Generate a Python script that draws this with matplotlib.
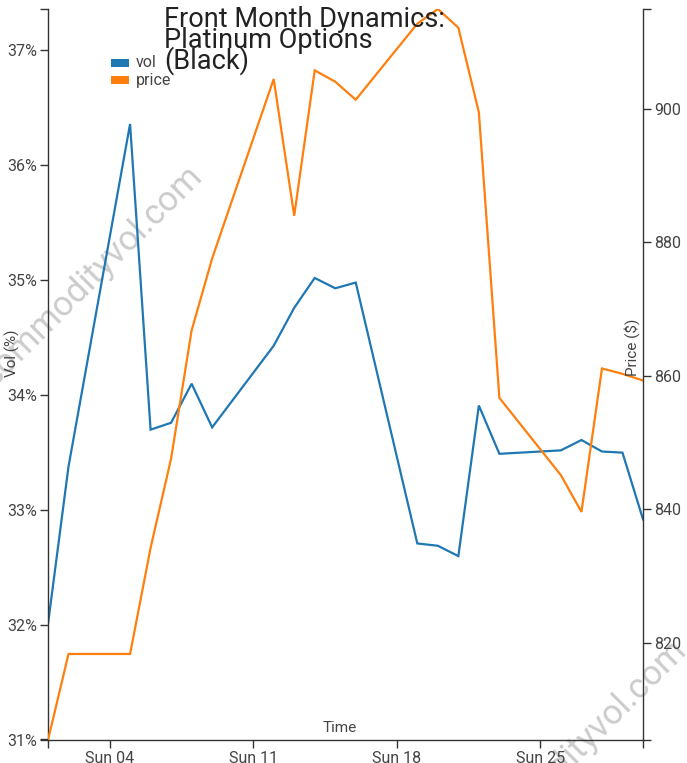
import matplotlib
matplotlib.use("Agg")
import matplotlib.pyplot as plt
import matplotlib.dates as mdates
from matplotlib.patches import Rectangle
import pandas as pd

plt.rcParams["font.family"] = ["Roboto", "DejaVu Sans"]

# ---------- data ----------
dates = ["2018-03-01", "2018-03-02", "2018-03-05", "2018-03-06", "2018-03-07", "2018-03-08",
         "2018-03-09", "2018-03-12", "2018-03-13", "2018-03-14", "2018-03-15", "2018-03-16",
         "2018-03-19", "2018-03-20", "2018-03-21", "2018-03-22", "2018-03-23", "2018-03-26",
         "2018-03-27", "2018-03-28", "2018-03-29", "2018-03-30"]
vol = [32.01, 33.38, 36.36, 33.70, 33.76, 34.10, 33.72, 34.43, 34.76, 35.02, 34.93,
       34.98, 32.71, 32.69, 32.60, 33.91, 33.49, 33.52, 33.61, 33.51, 33.50, 32.92]
price = [805.4, 818.3, 818.3, 834.2, 847.6, 866.8, 877.6, 904.5, 884.0, 905.8, 904.1,
         901.4, 912.8, 915.0, 912.2, 899.5, 856.7, 845.1, 839.6, 861.1, 860.3, 859.3]
vol_ticks = [31, 32, 33, 34, 35, 36, 37]
price_ticks = [820, 840, 860, 880, 900]
title_lines = ["Front Month Dynamics:", "Platinum Options", "(Black)"]
series_names = ["vol", "price"]

BLUE, ORANGE = "#1f77b4", "#ff7f0e"
AX_C, TXT_C = "#333333", "#444444"
W, H = 687, 763

x = pd.to_datetime(dates)

fig = plt.figure(figsize=(W / 100, H / 100), dpi=100)
ax = fig.add_axes([48 / W, 23 / H, 595 / W, 731 / H])
ax2 = ax.twinx()
for a in (ax, ax2):
    a.patch.set_visible(False)
    a.set_zorder(2)

ax.plot(x, vol, color=BLUE, lw=1.6, solid_joinstyle="miter")
ax2.plot(x, price, color=ORANGE, lw=1.6, solid_joinstyle="miter")

ax.set_xlim(x[0], x[-1])
vlo, vhi = min(vol) - 1, max(vol) + 1
ax.set_ylim(vlo, vhi)
ax2.set_ylim(min(price), max(price))

ax.set_yticks(vol_ticks)
ax.set_yticklabels([f"{v}%" for v in vol_ticks])
ax2.set_yticks(price_ticks)
# outer ticks at the ends of each axis line
ax.set_yticks([vlo, vhi], minor=True)
ax2.set_yticks([min(price), max(price)], minor=True)
ax.set_xticks([x[0], x[-1]], minor=True)
ax.xaxis.set_major_locator(mdates.WeekdayLocator(byweekday=mdates.SU))
ax.xaxis.set_major_formatter(mdates.DateFormatter("%a %d"))

for a in (ax, ax2):
    a.spines["top"].set_visible(False)
    for s in a.spines.values():
        s.set_color(AX_C)
        s.set_linewidth(1.0)
    a.tick_params(which="both", length=6, width=1.0, color=AX_C, labelcolor=TXT_C,
                  labelsize=11.5, pad=2)
ax.spines["right"].set_visible(False)
ax2.spines["left"].set_visible(False)
ax2.spines["bottom"].set_visible(False)

fig.text(12 / W, 1 - 353 / H, "Vol (%)", rotation=90, ha="center", va="center",
         fontsize=11, color=TXT_C)
fig.text(632 / W, 1 - 347 / H, "Price ($)", rotation=90, ha="center", va="center",
         fontsize=11, color=TXT_C)
fig.text(340 / W, 1 - 728 / H, "Time", ha="center", va="center", fontsize=11, color=TXT_C)

# title, three tight lines
for i, line in enumerate(title_lines):
    fig.text(164 / W, 1 - (27 + 20.8 * i) / H, line, ha="left", va="baseline",
             fontsize=19.5, color="#222222", zorder=5)

# legend
for i, (name, c) in enumerate(zip(series_names, [BLUE, ORANGE])):
    yc = 62.5 + 17.5 * i
    fig.patches.append(Rectangle((111 / W, 1 - (yc + 4) / H), 18 / W, 8 / H,
                                 transform=fig.transFigure, facecolor=c, edgecolor="none",
                                 zorder=5))
    fig.text(136 / W, 1 - yc / H, name, ha="left", va="center", fontsize=11.5,
             color=TXT_C, zorder=5)

# watermarks
for cx, cy in [(92, 276), (576, 750)]:
    fig.text(cx / W, 1 - cy / H, "commodityvol.com", rotation=45, ha="center", va="center",
             rotation_mode="anchor", fontsize=25, color="#cccccc", zorder=0)

fig.savefig("out.png", dpi=100, facecolor="white")
